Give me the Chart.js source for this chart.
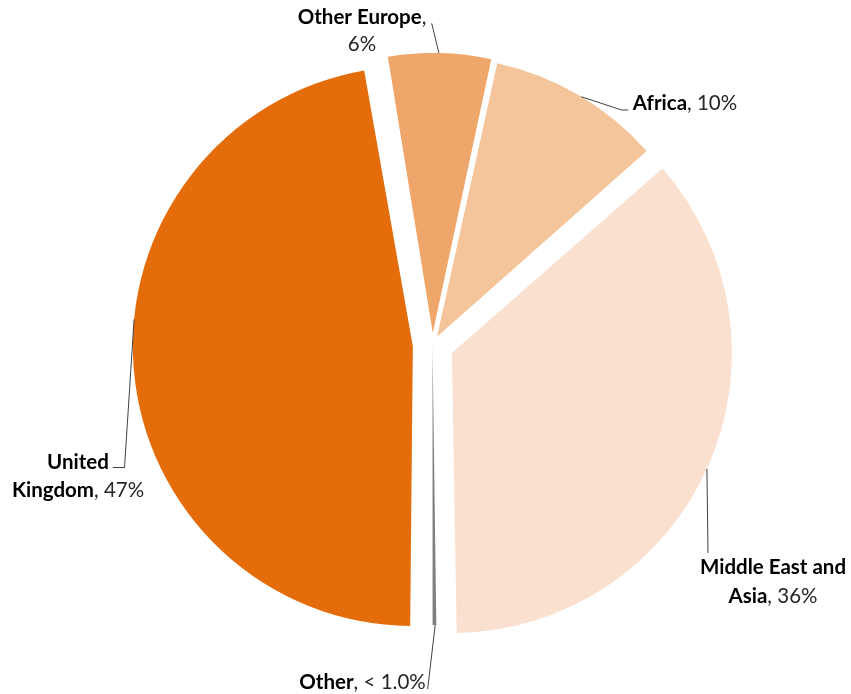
<!DOCTYPE html>
<html><head><meta charset="utf-8">
<script src="https://cdn.jsdelivr.net/npm/chart.js@4.4.1/dist/chart.umd.min.js"></script>
<style>html,body{margin:0;padding:0;background:#fff;}#wrap{width:851px;height:694px;position:relative;}</style>
</head><body><div id="wrap"><canvas id="c"></canvas></div>
<script>
// ---- data ----
const categories = ['United Kingdom', 'Other Europe', 'Africa', 'Middle East and Asia', 'Other'];
const shares = [47, 6, 10, 36, 0.22];
const valueLabels = ['47%', '6%', '10%', '36%', '< 1.0%'];

// ---- style ----
const colors = ['#E46C0A', '#EFA66B', '#F4C59B', '#FAE1CF', '#7F7F7F'];
const explode = [79, 46, 36, 85, 2];
const RADIUS = 280;
const FONT = 'Lato, "Open Sans", sans-serif';
const FONT_SIZE = 20.5;

// label layout: break index in "Name, value", line centre x, first baseline, line gap, leader (anchor angle + points)
const labelLayout = [
  { brk: 6,  cx: 78,  y: 468.5, gap: 28.5, anchor: 275.5, pts: [[124.5, 467.5], [113, 467.5]] },
  { brk: 13, cx: 362, y: 23.5,  gap: 27.5, anchor: 1.25,  pts: [[431.7, 23.3]] },
  { brk: -1, cx: 685, y: 109.5, gap: 0,    anchor: 31,    pts: [[621.7, 110], [628.3, 110]] },
  { brk: 15, cx: 773, y: 573.5, gap: 29,   anchor: 114.4, pts: [[708, 553]] },
  { brk: -1, cx: 362.5, y: 688.5, gap: 0,  anchor: 179.45, pts: [[427.7, 689]] }
];

const radiusFix = {
  id: 'radiusFix',
  afterDatasetsUpdate(chart) {
    const meta = chart.getDatasetMeta(0);
    meta.data.forEach(arc => {
      const off = (arc.options.offset || 0) / 4;
      const circ = arc.endAngle - arc.startAngle;
      const fix = 1 - Math.sin(Math.min(Math.PI, circ));
      arc.outerRadius = RADIUS - off * fix;
    });
  }
};

const labelsPlugin = {
  id: 'pieLabels',
  afterDatasetsDraw(chart) {
    const ctx = chart.ctx;
    const meta = chart.getDatasetMeta(0);
    ctx.save();
    meta.data.forEach((arc, i) => {
      const L = labelLayout[i];
      const mid = (arc.startAngle + arc.endAngle) / 2;
      const off = (arc.options.offset || 0) / 4;
      const ox = arc.x + Math.cos(mid) * off;
      const oy = arc.y + Math.sin(mid) * off;
      const a = (L.anchor - 90) * Math.PI / 180;
      // leader line
      ctx.beginPath();
      ctx.moveTo(ox + Math.cos(a) * RADIUS, oy + Math.sin(a) * RADIUS);
      L.pts.forEach(p => ctx.lineTo(p[0], p[1]));
      ctx.strokeStyle = '#404040';
      ctx.lineWidth = 1;
      ctx.stroke();
      // text
      const name = categories[i];
      const full = name + ', ' + valueLabels[i];
      let lines;
      if (L.brk > 0) {
        lines = [[0, L.brk], [L.brk + 1, full.length]];
      } else {
        lines = [[0, full.length]];
      }
      lines.forEach((rng, li) => {
        const segs = [];
        const bEnd = Math.min(rng[1], name.length);
        if (rng[0] < bEnd) segs.push({ t: full.slice(rng[0], bEnd), b: true });
        const rStart = Math.max(rng[0], name.length);
        if (rStart < rng[1]) segs.push({ t: full.slice(rStart, rng[1]), b: false });
        let w = 0;
        segs.forEach(s => {
          ctx.font = (s.b ? 'bold ' : '') + FONT_SIZE + 'px ' + FONT;
          s.w = ctx.measureText(s.t).width;
          w += s.w;
        });
        let x = L.cx - w / 2;
        const y = L.y + li * L.gap;
        ctx.textBaseline = 'alphabetic';
        ctx.textAlign = 'left';
        segs.forEach(s => {
          ctx.font = (s.b ? 'bold ' : '') + FONT_SIZE + 'px ' + FONT;
          ctx.fillStyle = s.b ? '#000000' : '#262626';
          ctx.fillText(s.t, x, y);
          x += s.w;
        });
      });
    });
    ctx.restore();
  }
};

new Chart(document.getElementById('c'), {
  type: 'pie',
  data: {
    labels: categories,
    datasets: [{
      data: shares,
      backgroundColor: colors,
      borderWidth: 0,
      offset: explode
    }]
  },
  options: {
    responsive: true,
    maintainAspectRatio: false,
    animation: false,
    events: [],
    rotation: 180,
    radius: RADIUS,
    layout: { padding: { left: 14, right: 0, top: 0, bottom: 5 } },
    plugins: { legend: { display: false }, tooltip: { enabled: false } }
  },
  plugins: [radiusFix, labelsPlugin]
});
</script>
</body></html>
